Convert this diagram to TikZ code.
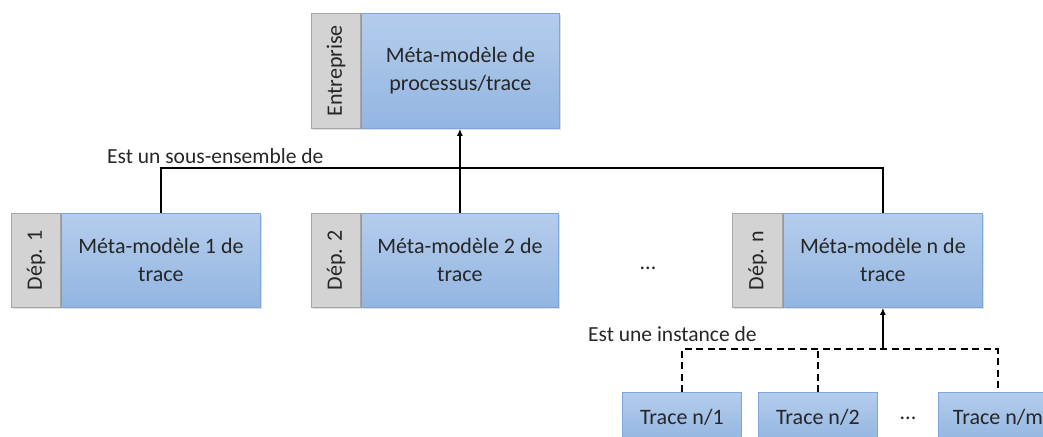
\documentclass[tikz,border=0pt]{standalone}
\usepackage{fontspec}
\setmainfont{Carlito}
\usetikzlibrary{arrows.meta,shadows}
\definecolor{bluetop}{HTML}{B4CDEC}
\definecolor{bluebot}{HTML}{93B5E1}
\definecolor{blueedge}{HTML}{7EA6D8}
\definecolor{greyfill}{HTML}{D3D3D3}
\definecolor{greyedge}{HTML}{A6A6A6}
\definecolor{txt}{HTML}{262626}
\begin{document}
\begin{tikzpicture}[x=1pt,y=-1pt,
  bluebox/.style={draw=blueedge,line width=0.8pt,top color=bluetop,bottom color=bluebot,
    anchor=north west,align=center,text=txt,font=\fontsize{22}{28}\selectfont,
    drop shadow={shadow xshift=1.5pt,shadow yshift=-1.5pt,opacity=0.25}},
  greybox/.style={draw=greyedge,line width=0.8pt,fill=greyfill,anchor=north east,text=txt,
    font=\fontsize{22}{26}\selectfont,
    drop shadow={shadow xshift=1.5pt,shadow yshift=-1.5pt,opacity=0.25}},
  tracebox/.style={draw=blueedge,line width=0.8pt,top color=bluetop,bottom color=bluebot,
    anchor=north west,text=txt,font=\fontsize{22}{26}\selectfont,minimum width=119pt,minimum height=50pt},
  lab/.style={text=txt,font=\fontsize{21.5}{26}\selectfont,inner sep=0pt},
  conn/.style={line width=2pt,black},
  arr/.style={conn,-{Latex[length=7pt,width=6pt]}},
  dsh/.style={line width=1.8pt,black,dash pattern=on 7pt off 4.5pt}
]
\useasboundingbox (0,0) rectangle (1043,436);
\clip (0,0) rectangle (1043,436);
% top
\node[bluebox,minimum width=198pt,minimum height=115pt] (top) at (361,13) {Méta-modèle de\\processus/trace};
\node[greybox,minimum width=49pt,minimum height=115pt] (topg) at (top.north west) {\rotatebox{90}{Entreprise}};
% departments
\node[bluebox,minimum width=199pt,minimum height=94pt] (d1) at (61,213) {Méta-modèle 1 de\\trace};
\node[greybox,minimum width=49pt,minimum height=94pt] (d1g) at (d1.north west) {\rotatebox{90}{Dép. 1}};
\node[bluebox,minimum width=197pt,minimum height=94pt] (d2) at (361,213) {Méta-modèle 2 de\\trace};
\node[greybox,minimum width=49pt,minimum height=94pt] (d2g) at (d2.north west) {\rotatebox{90}{Dép. 2}};
\node[bluebox,minimum width=199pt,minimum height=94pt] (dn) at (783,213) {Méta-modèle n de\\trace};
\node[greybox,minimum width=50pt,minimum height=94pt] (dng) at (dn.north west) {\rotatebox{90}{Dép. n}};
\node[lab,font=\fontsize{22}{26}\selectfont] (dots1) at (648,268) {...};
% traces
\node[tracebox] (t1) at (622,392) {Trace n/1};
\node[tracebox] (t2) at (758,392) {Trace n/2};
\node[tracebox] (tm) at (938,392) {Trace n/m};
\node[lab,font=\fontsize{22}{26}\selectfont] (dots2) at (908,418) {...};
% labels
\node[lab,anchor=west] (l1) at (107,156) {Est un sous-ensemble de};
\node[lab,anchor=west] (l2) at (588,334) {Est une instance de};
% connectors
\coordinate (j) at (d2.north |- 0,168);
\draw[conn] (d1.north) |- (j) -| (dn.north);
\draw[conn] (d2.north) -- (j);
\draw[arr] (j) -- (j |- top.south);
\coordinate (k) at (dn.south |- 0,349);
\draw[arr] (k) -- (dn.south);
\draw[dsh] (t1.north) |- (k) -| (tm.north);
\draw[dsh] (t2.north) -- (t2.north |- k);
\end{tikzpicture}
\end{document}
